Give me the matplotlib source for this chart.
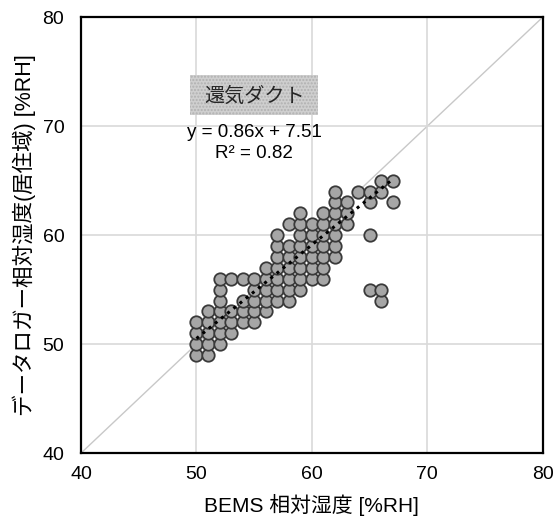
import numpy as np
import matplotlib.pyplot as plt
from matplotlib.patches import Rectangle

plt.rcParams['font.family'] = ['Liberation Sans', 'Noto Sans CJK JP', 'DejaVu Sans']

# BEMS humidity vs data logger humidity (return air duct), one row of y values at a time
bems = [50, 51,
        50, 51, 52,
        50, 51, 52, 53,
        50, 51, 52, 53, 54, 55,
        51, 52, 53, 54, 55, 56,
        52, 54, 55, 56, 57, 58, 66,
        52, 55, 56, 57, 58, 59, 65, 66,
        52, 53, 54, 55, 56, 57, 58, 59, 60, 61,
        56, 57, 58, 59, 60, 61,
        57, 58, 59, 60, 61, 62,
        57, 58, 59, 60, 61, 62,
        57, 59, 60, 61, 62, 65,
        58, 59, 60, 61, 62, 63,
        59, 61, 62, 63,
        62, 63, 65, 67,
        62, 64, 65, 66,
        66, 67]
logger = [49, 49,
          50, 50, 50,
          51, 51, 51, 51,
          52, 52, 52, 52, 52, 52,
          53, 53, 53, 53, 53, 53,
          54, 54, 54, 54, 54, 54, 54,
          55, 55, 55, 55, 55, 55, 55, 55,
          56, 56, 56, 56, 56, 56, 56, 56, 56, 56,
          57, 57, 57, 57, 57, 57,
          58, 58, 58, 58, 58, 58,
          59, 59, 59, 59, 59, 59,
          60, 60, 60, 60, 60, 60,
          61, 61, 61, 61, 61, 61,
          62, 62, 62, 62,
          63, 63, 63, 63,
          64, 64, 64, 64,
          65, 65]

slope = 0.86
intercept = 7.51
r2 = 0.82
ticks = [40, 50, 60, 70, 80]

fig = plt.figure(figsize=(5.55, 5.19), dpi=100)
ax = fig.add_axes([0.146, 0.127, 0.832, 0.840])

ax.set_xlim(40, 80)
ax.set_ylim(40, 80)
ax.set_xticks(ticks)
ax.set_yticks(ticks)
ax.grid(True, color='#d9d9d9', linewidth=1.2, zorder=0)
ax.tick_params(length=0, labelsize=14)
ax.tick_params(axis='x', pad=9)
ax.tick_params(axis='y', pad=12)
for s in ax.spines.values():
    s.set_linewidth(1.6)
    s.set_color('black')

# 1:1 reference line
ax.plot([40, 80], [40, 80], color='#c8c8c8', linewidth=1, zorder=1)

ax.scatter(bems, logger, s=80, facecolor='#a6a6a6', edgecolor='#3a3a3a',
           linewidth=1.3, zorder=3)

# linear trend
xt = np.array([min(bems), max(bems)])
ax.plot(xt, slope * xt + intercept, color='black', linestyle=(0, (1, 1.6)),
        linewidth=2.2, zorder=4)

box = Rectangle((49.45, 71.0), 11.05, 3.7, facecolor='#cfcfcf', edgecolor='#b0b0b0',
                hatch='.....', linewidth=0, zorder=2)
ax.add_patch(box)
ax.text(55.0, 72.7, '還気ダクト', ha='center', va='center', fontsize=14.5,
        color='#262626', zorder=5)
ax.text(55.0, 69.45, f'y = {slope}x + {intercept}', ha='center', va='center',
        fontsize=13.5, zorder=5)
ax.text(55.0, 67.5, f'R² = {r2}', ha='center', va='center', fontsize=13.5, zorder=5)

ax.set_xlabel('BEMS 相対湿度 [%RH]', fontsize=15, labelpad=8)
ax.set_ylabel('データロガー相対湿度(居住域) [%RH]', fontsize=15.5, labelpad=5)

fig.savefig('out.png', dpi=100)
